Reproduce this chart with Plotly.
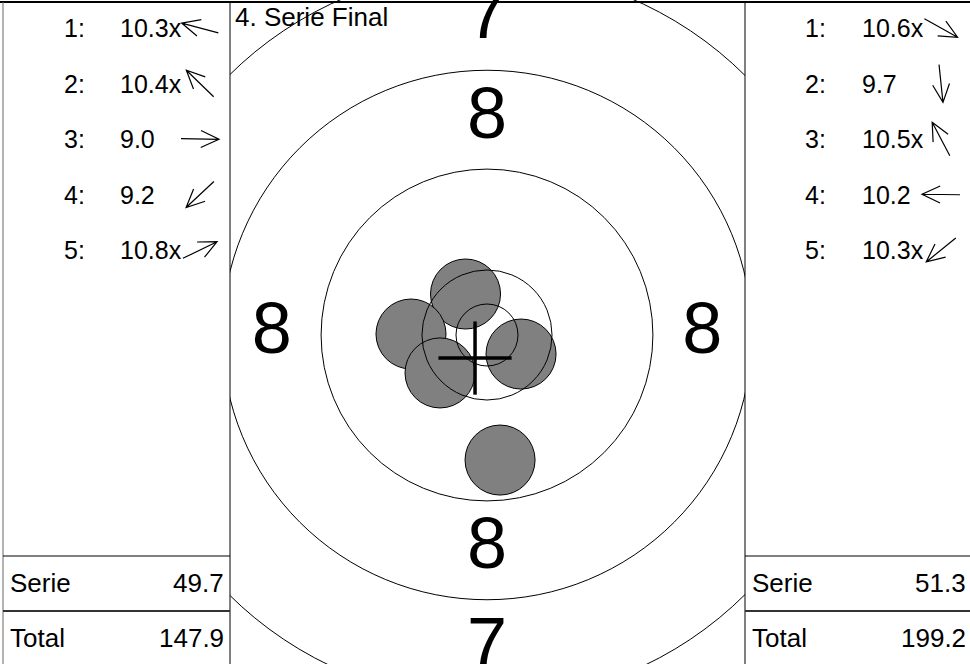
import math
import plotly.graph_objects as go

# ---------------- data ----------------
SHOT_NUMBERS = [1, 2, 3, 4, 5]
PREV_SCORES = ["10.3x", "10.4x", "9.0", "9.2", "10.8x"]      # series 3 (left panel)
PREV_DIRECTIONS_DEG = [165, 136, -1, 223, 26]                 # arrow directions of series 3
PREV_SERIE = 49.7
PREV_TOTAL = 147.9

CUR_SCORES = ["10.6x", "9.7", "10.5x", "10.2", "10.3x"]       # series 4 (right panel / target)
CUR_SCORE_VALUES = [10.6, 9.7, 10.5, 10.2, 10.3]
SHOT_X_MM = [2.79, 1.07, -1.76, -6.23, -3.85]
SHOT_Y_MM = [-1.56, -10.25, 3.36, 0.08, -3.11]
SHOT_RADIUS_MM = 2.87
MPI_X_MM, MPI_Y_MM = -0.98, -1.89

RING_RADII_MM = [2.54, 5.33, 13.6, 21.7, 30.0]                 # inner ten, 10, 9, 8, 7
RING_LABELS = ["8", "7"]                                     # bands: 9..8 ring, 8..7 ring
TITLE = "4. Serie Final"

# ---------------- layout constants ----------------
W, H = 970, 664
S = 12.2            # px per mm
CX, CY = 487, 335   # target centre in px
MID_L, MID_R = 230, 745
FONT = "Liberation Sans, Arial, sans-serif"

def px(x):
    return x / W

def py(y):
    return 1 - y / H

fig = go.Figure()

shapes = []
annotations = []

# shots (fill + outline)
for x, y in zip(SHOT_X_MM, SHOT_Y_MM):
    shapes.append(dict(type="circle", xref="x", yref="y",
                       x0=x - SHOT_RADIUS_MM, x1=x + SHOT_RADIUS_MM,
                       y0=y - SHOT_RADIUS_MM, y1=y + SHOT_RADIUS_MM,
                       fillcolor="#808080", line=dict(color="black", width=1)))
# rings
for r in RING_RADII_MM:
    shapes.append(dict(type="circle", xref="x", yref="y", x0=-r, x1=r, y0=-r, y1=r,
                       line=dict(color="black", width=1)))
# mean point of impact cross
CL = 3.0
shapes.append(dict(type="line", xref="x", yref="y", x0=MPI_X_MM - CL, x1=MPI_X_MM + CL,
                   y0=MPI_Y_MM, y1=MPI_Y_MM, line=dict(color="black", width=3.5)))
shapes.append(dict(type="line", xref="x", yref="y", x0=MPI_X_MM, x1=MPI_X_MM,
                   y0=MPI_Y_MM - CL, y1=MPI_Y_MM + CL, line=dict(color="black", width=3.5)))

# ring numbers at the mid radius of each band
lx, ly, lt = [], [], []
for i, lab in enumerate(RING_LABELS):
    rm = (RING_RADII_MM[2 + i] + RING_RADII_MM[3 + i]) / 2
    for ddx, ddy in [(-1, 0), (1, 0), (0, 1), (0, -1)]:
        lx.append(ddx * rm)
        ly.append(ddy * rm)
        lt.append(lab)
fig.add_trace(go.Scatter(x=lx, y=ly, text=lt, mode="text", textposition="middle center",
                         textfont=dict(family=FONT, size=72, color="black"),
                         hoverinfo="skip", showlegend=False, cliponaxis=True))

# panel frame lines
def pline(x0, y0, x1, y1, width=1, color="black"):
    shapes.append(dict(type="line", xref="paper", yref="paper",
                       x0=px(x0), y0=py(y0), x1=px(x1), y1=py(y1),
                       line=dict(color=color, width=width)))

pline(0, 2, W, 2, 2)
pline(3, 2, 3, H, 1, "#666666")
pline(MID_L, 2, MID_L, H, 1)
pline(MID_R, 2, MID_R, H, 1)
pline(3, 556, MID_L, 556, 1)
pline(3, 611, MID_L, 611, 2, "#333333")
pline(MID_R, 556, W, 556, 1)
pline(MID_R, 611, W, 611, 2, "#333333")

ROW_Y = [28, 83.5, 139, 194.5, 250]

def txt(x, y, s, anchor="left", size=25):
    annotations.append(dict(x=px(x), y=py(y), xref="paper", yref="paper", text=s,
                            showarrow=False, xanchor=anchor, yanchor="middle",
                            font=dict(family=FONT, size=size, color="black")))

def arrow(cx, cy, deg, L=38, head=20, spread=25):
    a = math.radians(deg)
    ux, uy = math.cos(a), -math.sin(a)
    tx, ty = cx - ux * L / 2, cy - uy * L / 2
    hx, hy = cx + ux * L / 2, cy + uy * L / 2
    pts = []
    for sgn in (1, -1):
        b = a + math.pi + sgn * math.radians(spread)
        pts.append((hx + head * math.cos(b), hy - head * math.sin(b)))
    path = (f"M {px(tx)},{py(ty)} L {px(hx)},{py(hy)} "
            f"M {px(pts[0][0])},{py(pts[0][1])} L {px(hx)},{py(hy)} L {px(pts[1][0])},{py(pts[1][1])}")
    shapes.append(dict(type="path", xref="paper", yref="paper", path=path,
                       line=dict(color="black", width=1.2)))

# left panel (previous series)
for n, s, d, y in zip(SHOT_NUMBERS, PREV_SCORES, PREV_DIRECTIONS_DEG, ROW_Y):
    txt(62, y, f"{n}:")
    txt(118, y, s)
    arrow(200, y, d)
txt(8, 583, "Serie", size=26)
txt(226, 583, f"{PREV_SERIE:.1f}", "right", 26)
txt(8, 638, "Total", size=26)
txt(226, 638, f"{PREV_TOTAL:.1f}", "right", 26)

# right panel (current series)
for n, s, x, y, ry in zip(SHOT_NUMBERS, CUR_SCORES, SHOT_X_MM, SHOT_Y_MM, ROW_Y):
    txt(803, ry, f"{n}:")
    txt(860, ry, s)
    arrow(941, ry, math.degrees(math.atan2(y, x)))
cur_serie = sum(CUR_SCORE_VALUES)
txt(750, 583, "Serie", size=26)
txt(968, 583, f"{cur_serie:.1f}", "right", 26)
txt(750, 638, "Total", size=26)
txt(968, 638, f"{PREV_TOTAL + cur_serie:.1f}", "right", 26)

# title inside target panel
txt(233, 17, TITLE, size=26)

fig.update_layout(
    width=W, height=H,
    margin=dict(l=0, r=0, t=0, b=0),
    paper_bgcolor="white", plot_bgcolor="white",
    showlegend=False,
    shapes=shapes, annotations=annotations,
    xaxis=dict(domain=[px(MID_L), px(MID_R)],
               range=[(MID_L - CX) / S, (MID_R - CX) / S],
               visible=False, showgrid=False, zeroline=False, fixedrange=True),
    yaxis=dict(domain=[0, 1], range=[-(H - CY) / S, CY / S],
               visible=False, showgrid=False, zeroline=False, fixedrange=True),
)

fig.write_html("out.html",
               config={"displayModeBar": False},
               post_script="document.body.style.margin='0';document.body.style.overflow='hidden';")
